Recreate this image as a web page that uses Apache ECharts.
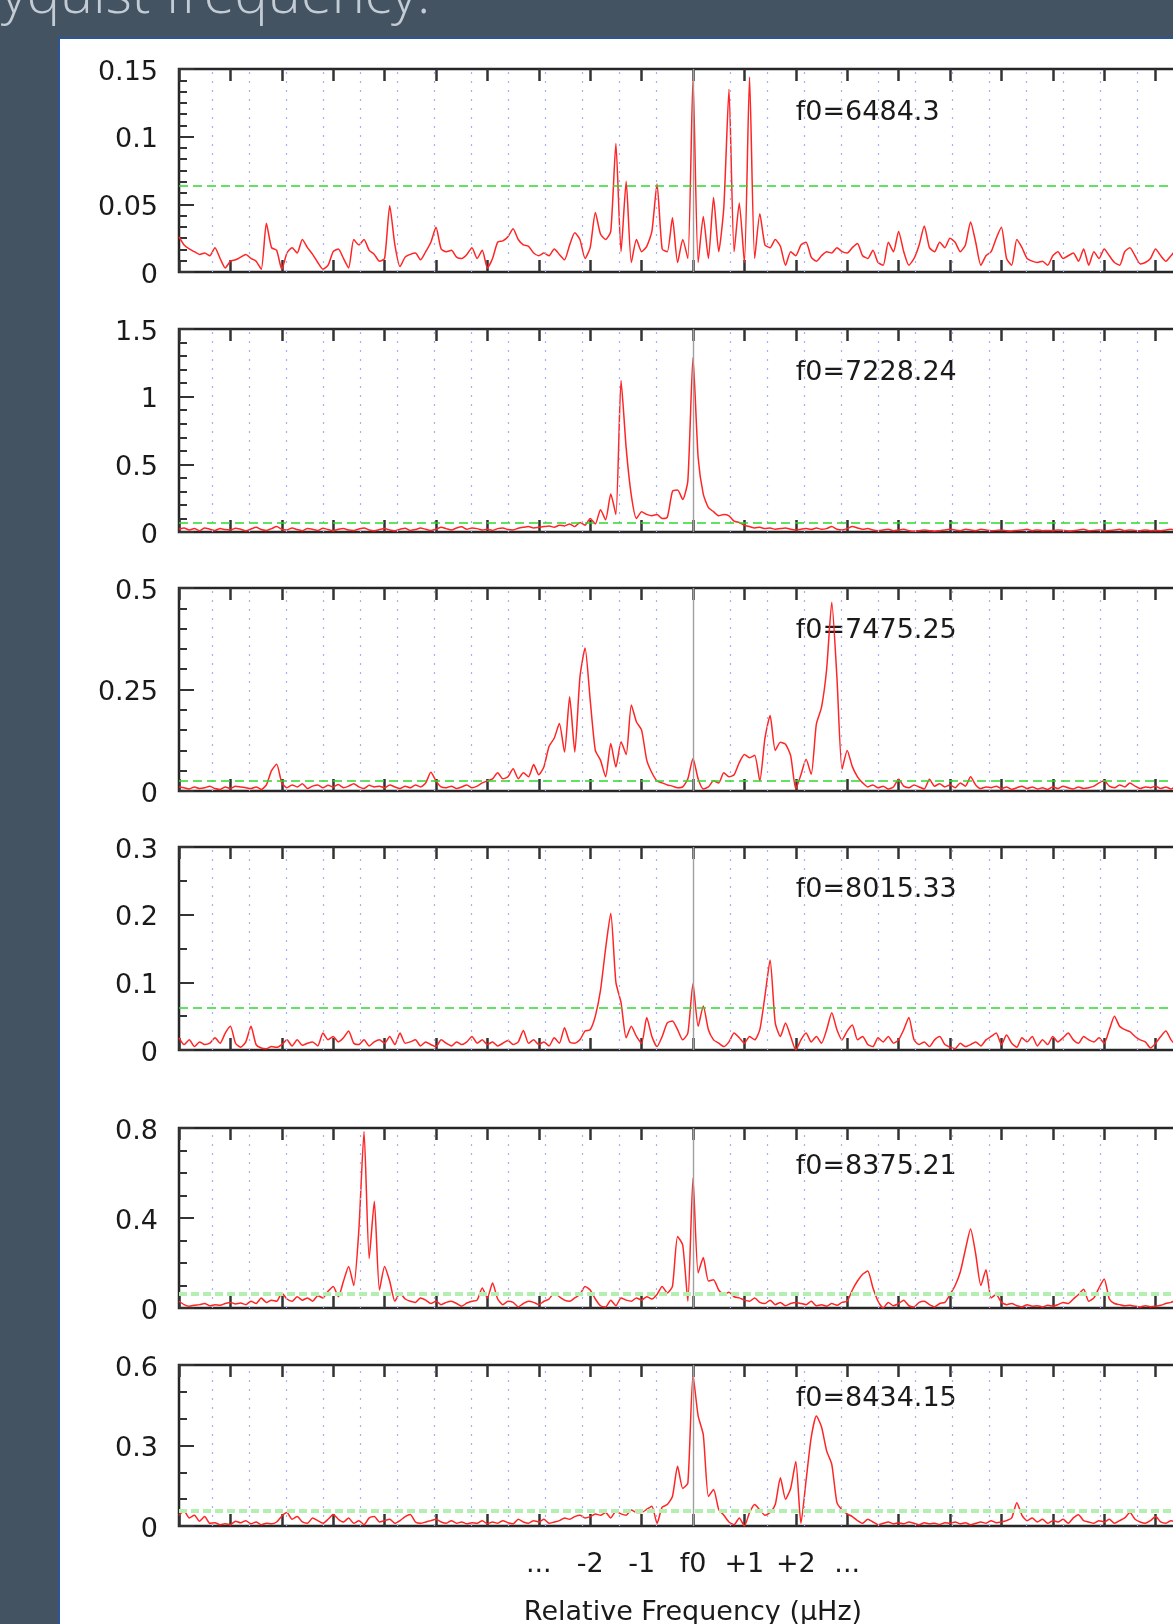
<!DOCTYPE html>
<html>
<head>
<meta charset="utf-8">
<title>Spectral window panels</title>
<script src="https://cdn.jsdelivr.net/npm/echarts@6/dist/echarts.min.js"></script>
<style>
  html, body { margin: 0; padding: 0; width: 1173px; height: 1624px; overflow: hidden; background: #435362; }
  #sheet { position: absolute; left: 58px; top: 37px; width: 1300px; height: 1700px; background: #fff;
           border-left: 2px solid #2c5597; border-top: 2px solid #2c5597; }
  #main { position: absolute; left: 0; top: 0; width: 1260px; height: 1624px; }
</style>
</head>
<body>
<div id="sheet"></div>
<div id="main"></div>
<script>
// sampling of every trace: x = -10 .. +10 in steps of 0.1 (relative frequency units)
var xStart = -10, xStep = 0.1;

var f0Labels = ['f0=6484.3', 'f0=7228.24', 'f0=7475.25', 'f0=8015.33', 'f0=8375.21', 'f0=8434.15'];
var yMax = [0.15, 1.5, 0.5, 0.3, 0.8, 0.6];
var yStep = [0.05, 0.5, 0.25, 0.1, 0.4, 0.3];
var yMinorSplit = [6, 5, 5, 2, 4, 3];
var threshold = [0.064, 0.065, 0.025, 0.062, 0.062, 0.058];

// bottom tick labels
var xLabelValues = [-3, -2, -1, 0, 1, 2, 3];
var xLabelTexts = ['...', '-2', '-1', 'f0', '+1', '+2', '...'];

// amplitude traces, one row = one unit of x
var amp6484 = [
  0.026, 0.020, 0.017, 0.015, 0.013, 0.014, 0.012, 0.018, 0.010, 0.003,
  0.008, 0.009, 0.011, 0.013, 0.010, 0.008, 0.002, 0.036, 0.018, 0.016,
  0.002, 0.014, 0.018, 0.014, 0.024, 0.018, 0.013, 0.007, 0.002, 0.005,
  0.015, 0.017, 0.010, 0.003, 0.024, 0.020, 0.024, 0.016, 0.013, 0.008,
  0.010, 0.049, 0.020, 0.004, 0.011, 0.013, 0.014, 0.009, 0.015, 0.022,
  0.033, 0.017, 0.015, 0.016, 0.011, 0.010, 0.013, 0.018, 0.010, 0.016,
  0.003, 0.010, 0.022, 0.023, 0.026, 0.032, 0.024, 0.020, 0.019, 0.014,
  0.012, 0.014, 0.012, 0.017, 0.013, 0.009, 0.020, 0.029, 0.024, 0.010,
  0.018, 0.044, 0.028, 0.024, 0.030, 0.095, 0.015, 0.067, 0.007, 0.024,
  0.015, 0.019, 0.030, 0.065, 0.017, 0.015, 0.040, 0.007, 0.024, 0.010,
  0.143, 0.007, 0.041, 0.010, 0.055, 0.015, 0.048, 0.135, 0.015, 0.051,
  0.007, 0.144, 0.010, 0.043, 0.020, 0.018, 0.024, 0.019, 0.005, 0.015,
  0.012, 0.020, 0.022, 0.011, 0.008, 0.012, 0.015, 0.014, 0.018, 0.015,
  0.014, 0.018, 0.021, 0.012, 0.010, 0.016, 0.007, 0.005, 0.022, 0.015,
  0.030, 0.015, 0.005, 0.010, 0.020, 0.034, 0.018, 0.015, 0.022, 0.018,
  0.025, 0.022, 0.015, 0.020, 0.037, 0.022, 0.005, 0.012, 0.015, 0.025,
  0.033, 0.010, 0.005, 0.024, 0.018, 0.010, 0.008, 0.007, 0.008, 0.005,
  0.012, 0.015, 0.010, 0.012, 0.014, 0.008, 0.017, 0.005, 0.015, 0.010,
  0.017, 0.012, 0.007, 0.005, 0.015, 0.018, 0.012, 0.006, 0.007, 0.010,
  0.017, 0.012, 0.008, 0.012, 0.016, 0.010, 0.012, 0.008, 0.014, 0.010, 0.012
];
var amp7228 = [
  0.020, 0.030, 0.015, 0.025, 0.010, 0.030, 0.020, 0.012, 0.025, 0.018,
  0.015, 0.028, 0.020, 0.010, 0.022, 0.035, 0.018, 0.012, 0.025, 0.040,
  0.020, 0.015, 0.030, 0.018, 0.010, 0.025, 0.020, 0.012, 0.028, 0.018,
  0.010, 0.020, 0.025, 0.015, 0.012, 0.022, 0.030, 0.015, 0.010, 0.018,
  0.025, 0.015, 0.010, 0.020, 0.028, 0.012, 0.018, 0.030, 0.020, 0.012,
  0.020, 0.035, 0.025, 0.015, 0.030, 0.038, 0.020, 0.030, 0.025, 0.015,
  0.020, 0.012, 0.025, 0.030, 0.018, 0.015, 0.028, 0.035, 0.040, 0.030,
  0.035, 0.040, 0.045, 0.035, 0.050, 0.045, 0.060, 0.040, 0.070, 0.050,
  0.100, 0.060, 0.165, 0.090, 0.280, 0.130, 1.120, 0.620, 0.270, 0.100,
  0.150, 0.130, 0.120, 0.130, 0.100, 0.110, 0.300, 0.310, 0.240, 0.380,
  1.290, 0.550, 0.280, 0.180, 0.150, 0.120, 0.130, 0.120, 0.080, 0.070,
  0.050, 0.040, 0.030, 0.035, 0.025, 0.030, 0.020, 0.025, 0.030, 0.020,
  0.015, 0.020, 0.025, 0.018, 0.030, 0.020, 0.025, 0.040, 0.020, 0.015,
  0.025, 0.040, 0.030, 0.020, 0.025, 0.015, 0.010, 0.015, 0.020, 0.010,
  0.015, 0.020, 0.010, 0.005, 0.010, 0.015, 0.010, 0.005, 0.010, 0.015,
  0.020, 0.015, 0.010, 0.020, 0.015, 0.010, 0.020, 0.015, 0.010, 0.012,
  0.015, 0.010, 0.008, 0.012, 0.015, 0.020, 0.010, 0.015, 0.010, 0.012,
  0.010, 0.015, 0.012, 0.008, 0.010, 0.015, 0.020, 0.010, 0.012, 0.015,
  0.010, 0.012, 0.015, 0.020, 0.010, 0.015, 0.012, 0.010, 0.015, 0.010,
  0.012, 0.010, 0.015, 0.020, 0.012, 0.010, 0.015, 0.010, 0.012, 0.015, 0.010
];
var amp7475 = [
  0.010, 0.008, 0.005, 0.010, 0.006, 0.008, 0.012, 0.006, 0.004, 0.010,
  0.006, 0.012, 0.010, 0.008, 0.006, 0.010, 0.004, 0.015, 0.050, 0.066,
  0.020, 0.008, 0.015, 0.010, 0.018, 0.006, 0.012, 0.015, 0.008, 0.014,
  0.010, 0.016, 0.008, 0.012, 0.018, 0.010, 0.006, 0.014, 0.010, 0.012,
  0.008, 0.015, 0.010, 0.006, 0.012, 0.008, 0.015, 0.010, 0.020, 0.046,
  0.025, 0.010, 0.008, 0.012, 0.006, 0.010, 0.015, 0.008, 0.012, 0.020,
  0.025, 0.030, 0.045, 0.030, 0.035, 0.055, 0.030, 0.045, 0.035, 0.065,
  0.040, 0.060, 0.110, 0.130, 0.166, 0.096, 0.232, 0.096, 0.280, 0.352,
  0.224, 0.100, 0.076, 0.035, 0.117, 0.059, 0.121, 0.090, 0.212, 0.170,
  0.150, 0.076, 0.045, 0.025, 0.020, 0.015, 0.012, 0.008, 0.010, 0.030,
  0.080, 0.030, 0.005, 0.010, 0.025, 0.020, 0.045, 0.035, 0.040, 0.070,
  0.090, 0.082, 0.088, 0.025, 0.130, 0.186, 0.100, 0.120, 0.115, 0.087,
  0.005, 0.040, 0.078, 0.041, 0.165, 0.206, 0.300, 0.465, 0.280, 0.054,
  0.100, 0.060, 0.035, 0.020, 0.010, 0.015, 0.008, 0.012, 0.005, 0.010,
  0.029, 0.012, 0.008, 0.015, 0.010, 0.005, 0.029, 0.012, 0.018, 0.010,
  0.015, 0.008, 0.020, 0.012, 0.035, 0.015, 0.006, 0.010, 0.008, 0.012,
  0.006, 0.010, 0.004, 0.008, 0.012, 0.006, 0.010, 0.005, 0.008, 0.004,
  0.010, 0.006, 0.012, 0.008, 0.005, 0.010, 0.006, 0.008, 0.012, 0.020,
  0.025, 0.012, 0.008, 0.015, 0.010, 0.020, 0.012, 0.006, 0.010, 0.008,
  0.012, 0.006, 0.010, 0.005, 0.012, 0.008, 0.010, 0.006, 0.012, 0.008, 0.010
];
var amp8015 = [
  0.018, 0.008, 0.015, 0.005, 0.012, 0.008, 0.010, 0.018, 0.010, 0.025,
  0.035, 0.010, 0.004, 0.012, 0.035, 0.008, 0.003, 0.002, 0.005, 0.004,
  0.008, 0.015, 0.006, 0.015, 0.007, 0.010, 0.012, 0.006, 0.025, 0.015,
  0.020, 0.012, 0.018, 0.028, 0.010, 0.008, 0.015, 0.006, 0.012, 0.015,
  0.010, 0.020, 0.008, 0.025, 0.010, 0.012, 0.015, 0.006, 0.012, 0.008,
  0.005, 0.015, 0.010, 0.006, 0.012, 0.008, 0.012, 0.020, 0.010, 0.015,
  0.008, 0.012, 0.006, 0.010, 0.014, 0.008, 0.012, 0.029, 0.010, 0.015,
  0.008, 0.012, 0.006, 0.018, 0.010, 0.033, 0.012, 0.010, 0.015, 0.028,
  0.030, 0.050, 0.088, 0.150, 0.202, 0.100, 0.070, 0.018, 0.035, 0.020,
  0.010, 0.048, 0.020, 0.005, 0.020, 0.040, 0.043, 0.030, 0.015, 0.025,
  0.098, 0.035, 0.065, 0.030, 0.015, 0.010, 0.005, 0.012, 0.025, 0.018,
  0.010, 0.020, 0.015, 0.030, 0.080, 0.133, 0.040, 0.020, 0.040, 0.020,
  0.000, 0.015, 0.025, 0.012, 0.020, 0.010, 0.030, 0.055, 0.030, 0.015,
  0.028, 0.037, 0.015, 0.020, 0.008, 0.005, 0.018, 0.012, 0.020, 0.010,
  0.015, 0.030, 0.048, 0.015, 0.008, 0.012, 0.005, 0.015, 0.020, 0.008,
  0.004, 0.002, 0.010, 0.005, 0.008, 0.012, 0.006, 0.015, 0.020, 0.025,
  0.008, 0.022, 0.010, 0.004, 0.018, 0.012, 0.020, 0.006, 0.015, 0.008,
  0.020, 0.012, 0.018, 0.025, 0.015, 0.010, 0.020, 0.015, 0.012, 0.018,
  0.010, 0.030, 0.050, 0.035, 0.030, 0.027, 0.020, 0.015, 0.012, 0.003,
  0.010, 0.020, 0.028, 0.015, 0.008, 0.012, 0.010, 0.015, 0.008, 0.012, 0.010
];
var amp8375 = [
  0.030, 0.015, 0.008, 0.012, 0.015, 0.020, 0.010, 0.015, 0.012, 0.020,
  0.025, 0.018, 0.022, 0.015, 0.030, 0.020, 0.044, 0.025, 0.035, 0.030,
  0.067, 0.040, 0.030, 0.050, 0.035, 0.045, 0.030, 0.055, 0.045, 0.074,
  0.096, 0.050, 0.119, 0.185, 0.100, 0.350, 0.785, 0.220, 0.474, 0.080,
  0.185, 0.119, 0.030, 0.067, 0.040, 0.030, 0.025, 0.045, 0.035, 0.020,
  0.030, 0.015, 0.025, 0.030, 0.020, 0.008, 0.022, 0.030, 0.035, 0.089,
  0.045, 0.111, 0.040, 0.015, 0.030, 0.025, 0.005, 0.020, 0.030, 0.025,
  0.015, 0.030, 0.040, 0.067, 0.050, 0.035, 0.030, 0.045, 0.060, 0.096,
  0.080, 0.040, 0.010, 0.005, 0.035, 0.010, 0.045, 0.035, 0.030, 0.045,
  0.035, 0.050, 0.040, 0.060, 0.096, 0.067, 0.096, 0.318, 0.280, 0.030,
  0.578, 0.156, 0.224, 0.120, 0.126, 0.080, 0.060, 0.070, 0.050, 0.045,
  0.035, 0.030, 0.045, 0.025, 0.020, 0.035, 0.015, 0.025, 0.010, 0.020,
  0.025, 0.020, 0.015, 0.030, 0.010, 0.015, 0.008, 0.020, 0.012, 0.025,
  0.030, 0.080, 0.120, 0.150, 0.164, 0.090, 0.030, 0.000, 0.025, 0.010,
  0.020, 0.035, 0.010, 0.005, 0.025, 0.030, 0.015, 0.005, 0.020, 0.025,
  0.060, 0.100, 0.160, 0.260, 0.351, 0.240, 0.100, 0.170, 0.045, 0.060,
  0.025, 0.015, 0.020, 0.010, 0.005, 0.015, 0.008, 0.010, 0.005, 0.012,
  0.008, 0.015, 0.025, 0.020, 0.040, 0.060, 0.083, 0.030, 0.045, 0.090,
  0.129, 0.040, 0.020, 0.015, 0.010, 0.012, 0.008, 0.005, 0.010, 0.006,
  0.008, 0.012, 0.020, 0.025, 0.035, 0.015, 0.010, 0.008, 0.012, 0.010, 0.008
];
var amp8434 = [
  0.040, 0.056, 0.030, 0.040, 0.018, 0.035, 0.010, 0.012, 0.005, 0.008,
  0.005, 0.018, 0.012, 0.020, 0.008, 0.015, 0.005, 0.010, 0.008, 0.015,
  0.037, 0.050, 0.025, 0.035, 0.015, 0.010, 0.030, 0.020, 0.010, 0.025,
  0.043, 0.025, 0.015, 0.030, 0.010, 0.020, 0.005, 0.030, 0.035, 0.015,
  0.020, 0.025, 0.010, 0.020, 0.035, 0.043, 0.015, 0.010, 0.015, 0.020,
  0.025, 0.015, 0.010, 0.020, 0.010, 0.015, 0.008, 0.012, 0.010, 0.020,
  0.008, 0.015, 0.010, 0.020, 0.012, 0.008, 0.025, 0.015, 0.010, 0.020,
  0.015, 0.025, 0.010, 0.015, 0.020, 0.030, 0.025, 0.035, 0.040, 0.030,
  0.035, 0.045, 0.040, 0.050, 0.030, 0.055, 0.045, 0.040, 0.060, 0.050,
  0.050, 0.062, 0.074, 0.010, 0.070, 0.080, 0.110, 0.223, 0.140, 0.160,
  0.563, 0.410, 0.340, 0.110, 0.136, 0.062, 0.040, 0.015, 0.005, 0.030,
  0.000, 0.050, 0.080, 0.060, 0.040, 0.050, 0.080, 0.180, 0.100, 0.140,
  0.240, 0.010, 0.170, 0.330, 0.410, 0.370, 0.280, 0.230, 0.087, 0.060,
  0.045, 0.035, 0.020, 0.010, 0.025, 0.015, 0.005, 0.010, 0.015, 0.008,
  0.012, 0.008, 0.015, 0.010, 0.005, 0.012, 0.008, 0.010, 0.006, 0.012,
  0.010, 0.015, 0.008, 0.012, 0.005, 0.010, 0.015, 0.010, 0.020, 0.012,
  0.015, 0.020, 0.030, 0.087, 0.040, 0.020, 0.030, 0.015, 0.025, 0.010,
  0.020, 0.015, 0.025, 0.010, 0.030, 0.042, 0.020, 0.015, 0.010, 0.020,
  0.015, 0.025, 0.010, 0.020, 0.030, 0.050, 0.025, 0.015, 0.010, 0.020,
  0.035, 0.015, 0.010, 0.020, 0.015, 0.010, 0.020, 0.015, 0.010, 0.015, 0.010
];

var traces = [amp6484, amp7228, amp7475, amp8015, amp8375, amp8434];

// layout (pixels)
var plotLeft = 179, plotWidth = 1028;
var panelTop = [69, 329, 588, 847, 1128, 1365];
var panelHeight = [203, 203, 203, 203, 180, 161];
var labelOffset = [44, 44, 43, 43, 39, 34];
var gridStep = 0.72;   // spacing of the dotted blue guide lines
var FONT = 'DejaVu Sans';

var myChart = echarts.init(document.getElementById('main'));

var guideXs = [];
for (var k = -13; k <= 13; k++) {
  if (k !== 0) guideXs.push(Math.round(k * gridStep * 100) / 100);
}

var grids = [], xAxes = [], yAxes = [], series = [], texts = [];
var tickStyle = { color: '#333', width: 2.5 };

for (var i = 0; i < traces.length; i++) {
  var last = i === traces.length - 1;
  grids.push({
    left: plotLeft, width: plotWidth, top: panelTop[i], height: panelHeight[i],
    show: true, borderColor: '#262626', borderWidth: 2.5, backgroundColor: 'transparent',
    containLabel: false, outerBoundsMode: 'none'
  });
  xAxes.push({
    gridIndex: i, type: 'value', position: 'bottom', min: -10, max: 10, interval: 1,
    axisLine: { show: false, onZero: false },
    axisTick: { show: true, inside: true, length: 12, lineStyle: tickStyle },
    splitLine: { show: false },
    axisLabel: last ? {
      show: true, margin: 25, fontFamily: FONT, fontSize: 27, color: '#1a1a1a',
      formatter: function (v) {
        var n = xLabelValues.indexOf(Math.round(v));
        return n < 0 ? '' : xLabelTexts[n];
      }
    } : { show: false },
    name: last ? 'Relative Frequency (\u00b5Hz)' : '',
    nameLocation: 'middle', nameGap: 73,
    nameTextStyle: { fontFamily: FONT, fontSize: 27, color: '#1a1a1a' }
  });
  xAxes.push({
    gridIndex: i, type: 'value', position: 'top', min: -10, max: 10, interval: 1,
    axisLine: { show: false, onZero: false },
    axisTick: { show: true, inside: true, length: 12, lineStyle: tickStyle },
    splitLine: { show: false },
    axisLabel: { show: false }
  });
  yAxes.push({
    gridIndex: i, type: 'value', position: 'left', min: 0, max: yMax[i], interval: yStep[i],
    axisLine: { show: false, onZero: false },
    axisTick: { show: true, inside: true, length: 15, lineStyle: { color: '#333', width: 2 } },
    minorTick: { show: true, splitNumber: yMinorSplit[i], length: 8, lineStyle: { color: '#333', width: 2 } },
    splitLine: { show: false },
    // short line box anchored at the tick pushes the digits a few pixels down
    axisLabel: { margin: 21, verticalAlign: 'top', lineHeight: 7, fontFamily: FONT, fontSize: 27, color: '#1a1a1a' }
  });

  var thin = i < 4;
  var marks = guideXs.map(function (x) {
    return { xAxis: x, lineStyle: { color: '#a6aef6', type: [2, 7], width: 1.2 } };
  });
  marks.push({ xAxis: 0, lineStyle: { color: '#a0a0a0', type: 'solid', width: 1.4 } });
  marks.push({
    yAxis: threshold[i],
    lineStyle: thin ? { color: '#2fd82f', type: [9, 5], width: 1.5 }
                    : { color: '#b4eeb0', type: [8, 4], width: 4 }
  });

  // guide lines behind the trace (precision kept high so the levels are not rounded)
  series.push({
    type: 'line', xAxisIndex: 2 * i, yAxisIndex: i, data: [], z: 1, silent: true,
    markLine: { silent: true, precision: 5, symbol: ['none', 'none'], label: { show: false }, animation: false, data: marks }
  });
  series.push({
    type: 'line', xAxisIndex: 2 * i, yAxisIndex: i, z: 3, silent: true,
    showSymbol: false, symbol: 'none', smooth: 0.2,
    lineStyle: { color: '#ff2525', width: 1.5 },
    data: traces[i].map(function (v, j) { return [xStart + j * xStep, v]; })
  });

  texts.push({
    type: 'text', x: plotLeft + plotWidth * 12 / 20, y: panelTop[i] + labelOffset[i],
    style: {
      text: f0Labels[i], font: '27px "' + FONT + '"', fill: '#1a1a1a',
      align: 'left', verticalAlign: 'middle', textAlign: 'left', textVerticalAlign: 'middle'
    }
  });
}

texts.push({
  type: 'text', x: 1, y: -3,
  style: {
    text: 'yquist frequency.', font: '300 56px "Open Sans"', fill: '#c3ccd5',
    align: 'left', verticalAlign: 'middle', textAlign: 'left', textVerticalAlign: 'middle'
  }
});

var option = {
  animation: false,
  backgroundColor: 'transparent',
  grid: grids,
  xAxis: xAxes,
  yAxis: yAxes,
  series: series,
  graphic: { elements: texts }
};

myChart.setOption(option);
</script>
</body>
</html>
